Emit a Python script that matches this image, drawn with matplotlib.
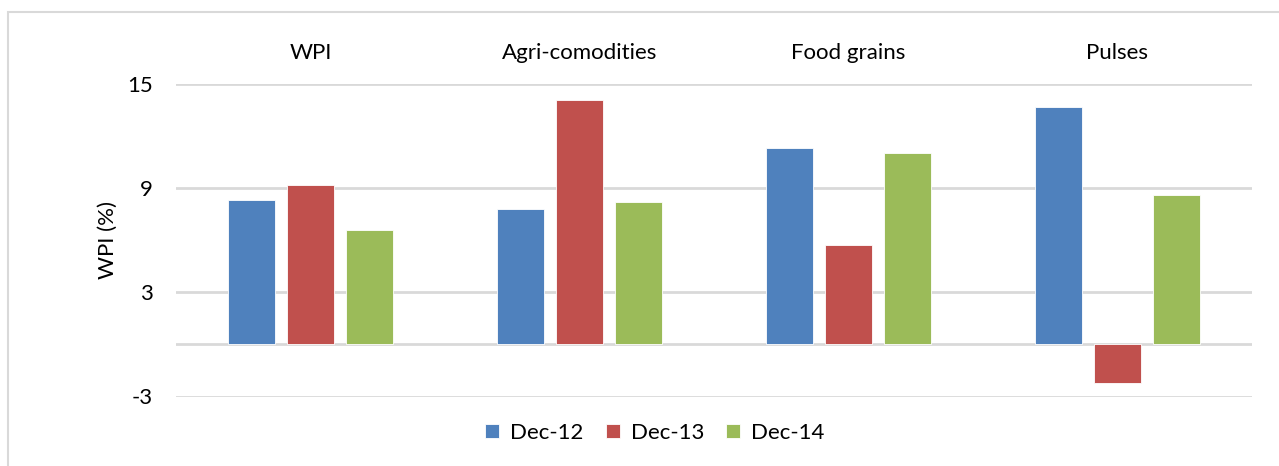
import matplotlib
matplotlib.use("Agg")
import matplotlib.pyplot as plt
from matplotlib.patches import Rectangle
import numpy as np

plt.rcParams['font.family'] = ['Lato', 'DejaVu Sans']

categories = ["WPI", "Agri-comodities", "Food grains", "Pulses"]
series_names = ["Dec-12", "Dec-13", "Dec-14"]
dec12 = [8.3, 7.8, 11.3, 13.7]
dec13 = [9.2, 14.1, 5.7, -2.2]
dec14 = [6.6, 8.2, 11.0, 8.6]
colors = ["#4F81BD", "#C0504D", "#9BBB59"]
yticks = [-3, 3, 9, 15]

FS = 16
W, H = 1279, 466
fig = plt.figure(figsize=(W / 100, H / 100), dpi=100)

# outer chart frame
fig.patches.append(Rectangle((8 / W, -0.01), 1.1, (H - 12) / H + 0.01,
                             transform=fig.transFigure, fill=False,
                             edgecolor="#d9d9d9", linewidth=1.5))

ax = fig.add_axes([176 / W, (H - 396.5) / H, (1252 - 176) / W, (396.5 - 84) / H])
ax.set_ylim(-3, 15)
ax.set_xlim(-0.5, 3.5)

x = np.arange(len(categories))
width = 0.175
step = 0.219
for i, (vals, name) in enumerate(zip([dec12, dec13, dec14], series_names)):
    ax.bar(x + (i - 1) * step, vals, width, color=colors[i], label=name,
           edgecolor="white", linewidth=0.6, zorder=3)

for y in yticks + [0]:
    ax.axhline(y, color="#d9d9d9", linewidth=2, zorder=1)

for s in ax.spines.values():
    s.set_visible(False)
ax.set_yticks(yticks)
ax.set_yticklabels([str(t) for t in yticks], fontsize=FS, color="#000000")
ax.tick_params(axis="y", length=0, pad=16.5)
ax.set_xticks([])
ax.set_ylabel("WPI (%)", fontsize=FS, labelpad=7)

for xi, c in zip(x, categories):
    ax.text(xi, 1.0 + 31 / (396.5 - 84), c, transform=ax.get_xaxis_transform(),
            ha="center", va="center", fontsize=FS)

fig.legend(loc="center", bbox_to_anchor=(655 / W, (H - 433) / H), ncol=3,
           frameon=False, fontsize=FS, handlelength=0.62, handleheight=0.62,
           columnspacing=1.0, handletextpad=0.5)

fig.savefig("out.png", dpi=100, facecolor="white")
